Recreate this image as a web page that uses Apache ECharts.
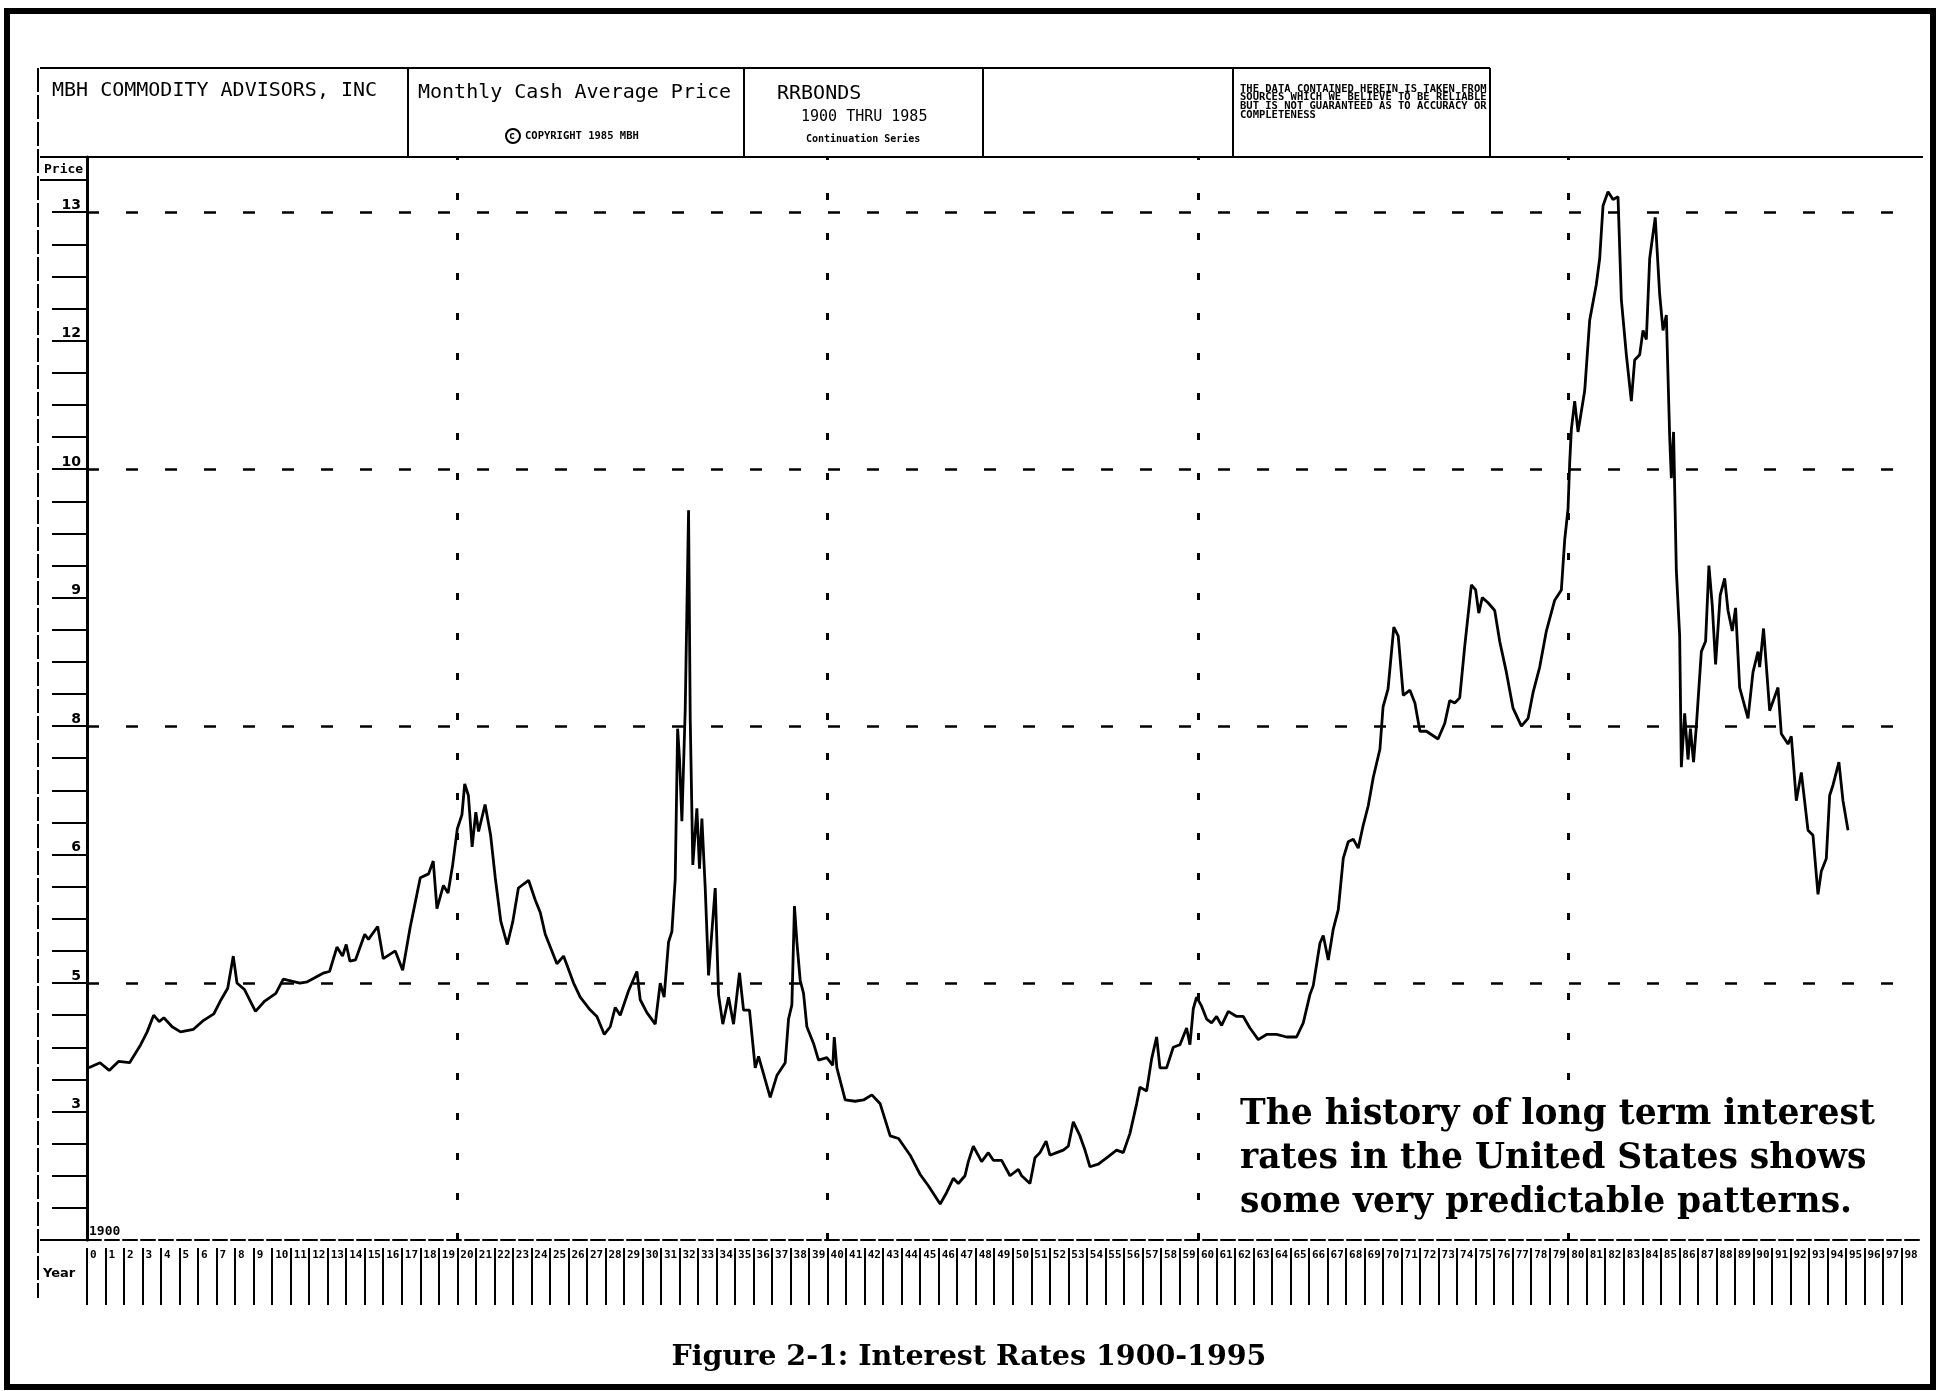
<!DOCTYPE html>
<html><head><meta charset="utf-8">
<script src="https://cdn.jsdelivr.net/npm/echarts/dist/echarts.min.js"></script>
<style>html,body{margin:0;padding:0;background:#fff}#c{width:1939px;height:1391px}</style>
</head><body><div id="c"></div>
<script>
// ---- data (monthly cash average, RR bonds) ----
const dates = [
 1900.1,1900.7,1901.2,1901.7,1902.3,1902.9,1903.25,1903.6,1903.9,1904.15,1904.6,1905.05,1905.75,1906.3,1906.85,1907.2,1907.6,1907.9,1908.1,1908.5,
 1909.1,1909.6,1910.2,1910.6,1911.5,1911.9,1912.8,1913.1,1913.5,1913.8,1914.0,1914.2,1914.5,1915.0,1915.2,1915.7,1916.0,1916.65,1917.05,1917.45,
 1918.0,1918.45,1918.7,1918.9,1919.25,1919.5,1919.75,1920.0,1920.25,1920.4,1920.6,1920.8,1921.0,1921.15,1921.5,1921.8,1922.05,1922.35,1922.7,1923.0,
 1923.3,1923.85,1924.2,1924.48,1924.75,1925.38,1925.74,1926.28,1926.64,1927.18,1927.54,1927.94,1928.26,1928.53,1928.8,1929.25,1929.7,1929.88,1930.24,1930.69,
 1930.96,1931.17,1931.41,1931.59,1931.77,1931.9,1932.0,1932.13,1932.31,1932.49,1932.58,1932.72,1932.94,1933.08,1933.21,1933.39,1933.57,1933.93,1934.11,1934.34,
 1934.65,1934.92,1935.24,1935.46,1935.78,1936.09,1936.27,1936.9,1937.26,1937.71,1937.89,1938.07,1938.21,1938.34,1938.52,1938.7,1938.88,1939.24,1939.51,1939.96,
 1940.28,1940.36,1940.5,1940.95,1941.49,1941.94,1942.39,1942.84,1943.38,1943.83,1944.46,1945.0,1945.45,1946.08,1946.43,1946.79,1947.06,1947.42,1947.6,1947.87,
 1948.32,1948.68,1948.95,1949.4,1949.85,1950.3,1950.48,1950.93,1951.2,1951.47,1951.8,1952.01,1952.37,1952.73,1953.0,1953.27,1953.63,1953.9,1954.17,1954.62,
 1955.07,1955.61,1955.97,1956.33,1956.69,1956.87,1957.23,1957.5,1957.77,1957.95,1958.31,1958.67,1959.03,1959.39,1959.57,1959.75,1959.93,1960.2,1960.47,1960.74,
 1961.01,1961.28,1961.64,1962.09,1962.45,1962.81,1963.26,1963.71,1964.25,1964.79,1965.33,1965.69,1966.05,1966.23,1966.59,1966.77,1967.04,1967.31,1967.58,1967.85,
 1968.12,1968.39,1968.66,1968.93,1969.2,1969.47,1969.83,1970.0,1970.27,1970.58,1970.82,1971.09,1971.45,1971.72,1971.99,1972.34,1972.97,1973.33,1973.6,1973.87,
 1974.14,1974.41,1974.77,1975.0,1975.17,1975.36,1975.67,1976.03,1976.3,1976.66,1977.02,1977.47,1977.83,1978.1,1978.46,1978.82,1979.27,1979.63,1979.81,1979.99,
 1980.08,1980.17,1980.35,1980.53,1980.89,1981.16,1981.52,1981.7,1981.88,1982.15,1982.42,1982.69,1982.87,1983.14,1983.41,1983.59,1983.86,1984.04,1984.22,1984.4,
 1984.7,1984.94,1985.12,1985.3,1985.48,1985.57,1985.69,1985.84,1986.02,1986.11,1986.29,1986.47,1986.6,1986.77,1986.92,1987.19,1987.42,1987.6,1987.78,1987.96,
 1988.21,1988.45,1988.63,1988.86,1989.04,1989.26,1989.71,1989.98,1990.25,1990.34,1990.55,1990.88,1991.33,1991.51,1991.87,1992.05,1992.32,1992.59,1992.95,1993.22,
 1993.49,1993.67,1993.94,1994.12,1994.3,1994.62,1994.84,1995.11
];
const yields = [
 3.68,3.76,3.64,3.78,3.76,4.04,4.24,4.50,4.40,4.46,4.32,4.24,4.28,4.42,4.52,4.72,4.92,5.21,5.00,4.90,
 4.56,4.72,4.84,5.03,5.00,5.01,5.08,5.09,5.28,5.21,5.30,5.17,5.18,5.38,5.34,5.44,5.19,5.25,5.10,5.43,
 5.82,5.85,5.95,5.58,5.76,5.70,5.92,6.40,6.62,7.10,6.92,6.12,6.66,6.36,6.78,6.30,5.82,5.48,5.30,5.48,
 5.74,5.80,5.65,5.55,5.38,5.15,5.21,5.00,4.78,4.58,4.48,4.20,4.32,4.62,4.50,4.88,5.09,4.74,4.54,4.36,
 5.00,4.78,5.32,5.40,5.81,7.96,7.50,6.52,8.13,9.68,8.06,5.92,6.72,5.89,6.56,5.74,5.06,5.74,4.82,4.36,
 4.78,4.36,5.08,4.58,4.58,3.68,3.86,3.22,3.56,3.76,4.44,4.66,5.60,5.32,5.02,4.84,4.32,4.06,3.80,3.84,
 3.72,4.16,3.68,3.18,3.16,3.18,3.26,3.12,2.81,2.79,2.66,2.51,2.42,2.28,2.37,2.48,2.44,2.50,2.61,2.73,
 2.61,2.68,2.62,2.62,2.50,2.55,2.50,2.44,2.64,2.68,2.77,2.66,2.68,2.70,2.73,2.92,2.81,2.70,2.57,2.59,
 2.64,2.70,2.68,2.83,3.12,3.38,3.32,3.82,4.16,3.68,3.68,4.00,4.04,4.30,4.04,4.60,4.78,4.64,4.44,4.38,
 4.48,4.34,4.56,4.48,4.48,4.30,4.12,4.20,4.20,4.16,4.16,4.38,4.82,4.96,5.31,5.37,5.18,5.42,5.57,5.97,
 6.20,6.24,6.10,6.46,6.76,7.20,7.64,8.15,8.29,8.77,8.70,8.24,8.28,8.18,7.92,7.92,7.80,8.02,8.20,8.18,
 8.22,8.62,9.10,9.06,8.88,9.00,8.96,8.90,8.66,8.42,8.14,8.00,8.06,8.26,8.46,8.74,8.98,9.06,9.45,9.69,
 10.10,10.62,11.06,10.58,11.22,12.16,12.44,12.64,13.05,13.16,13.10,13.12,12.32,11.78,11.06,11.70,11.78,12.08,12.01,12.64,
 12.96,12.36,12.08,12.20,10.50,9.93,10.58,9.21,8.70,7.36,8.10,7.48,7.96,7.44,8.00,8.58,8.66,9.25,8.94,8.48,
 9.02,9.15,8.90,8.74,8.92,8.30,8.06,8.42,8.58,8.46,8.76,8.12,8.30,7.88,7.72,7.84,6.84,7.28,6.38,6.30,
 5.69,5.87,5.97,6.92,7.08,7.44,6.84,6.38
];
// price ruler: evenly spaced printed levels (baseline unlabeled)
const priceLevels = [2, 3, 5, 6, 8, 9, 10, 12, 13];
const priceLabels = ['', '3', '5', '6', '8', '9', '10', '12', '13'];
const gridLevelIdx = [2, 4, 6, 8];           // dashed horizontal guides (5, 8, 10, 13)
const gridYears = [1920, 1940, 1960, 1980];   // dashed vertical guides
const yearStart = 1900, yearEnd = 1999;

const headerTexts = {
  company: 'MBH COMMODITY ADVISORS, INC',
  kind: 'Monthly Cash Average Price',
  copyright: 'COPYRIGHT 1985 MBH',
  symbol: 'RRBONDS',
  range: '1900 THRU 1985',
  series: 'Continuation Series',
  disclaimer: ['THE DATA CONTAINED HEREIN IS TAKEN FROM', 'SOURCES WHICH WE BELIEVE TO BE RELIABLE', 'BUT IS NOT GUARANTEED AS TO ACCURACY OR', 'COMPLETENESS']
};
const noteLines = ['The history of long term interest', 'rates in the United States shows', 'some very predictable patterns.'];
const caption = 'Figure 2-1: Interest Rates 1900-1995';

// map a price onto the ruler position (piecewise between printed levels)
function toPos(v) {
  const L = priceLevels;
  for (let i = 0; i < L.length - 1; i++) {
    if (v <= L[i + 1]) return i + (v - L[i]) / (L[i + 1] - L[i]);
  }
  const n = L.length - 1;
  return n + (v - L[n]) / (L[n] - L[n - 1]);
}

const chart = echarts.init(document.getElementById('c'));
const mono = 'DejaVu Sans Mono';
const serif = 'DejaVu Serif';
const K = '#000';
function line(x1, y1, x2, y2, w, dash) {
  return { type: 'line', shape: { x1, y1, x2, y2 }, style: { stroke: K, lineWidth: w || 2, lineDash: dash || null }, silent: true };
}
function txt(x, y, text, font, opt) {
  return Object.assign({ type: 'text', x, y, style: Object.assign({ text, font, fill: K, textVerticalAlign: 'middle' }, opt || {}) , silent: true});
}

const graphics = [
  { type: 'rect', shape: { x: 7, y: 11, width: 1926, height: 1376 }, style: { fill: 'none', stroke: K, lineWidth: 6 }, silent: true },
  line(40, 68, 1490, 68, 2),
  line(40, 157, 1923, 157, 2),
  line(38, 68, 38, 1298, 2, [24, 3]),
  line(408, 68, 408, 157, 2),
  line(744, 68, 744, 157, 2),
  line(983, 68, 983, 157, 2),
  line(1233, 68, 1233, 157, 2),
  line(1490, 68, 1490, 157, 2),
  line(40, 1240, 87, 1240, 2, [14, 4]),
  line(40, 180, 87, 180, 2),
  txt(52, 91, headerTexts.company, '20px ' + mono),
  txt(418, 93, headerTexts.kind, '20px ' + mono),
  { type: 'circle', shape: { cx: 513, cy: 136, r: 7 }, style: { fill: 'none', stroke: K, lineWidth: 2 }, silent: true },
  txt(509, 136, 'c', 'bold 10px ' + mono),
  txt(525, 136, headerTexts.copyright, 'bold 10.5px ' + mono),
  txt(777, 94, headerTexts.symbol, '20px ' + mono),
  txt(801, 117, headerTexts.range, '15px ' + mono),
  txt(806, 139, headerTexts.series, 'bold 10px ' + mono),
  txt(44, 170, 'Price', 'bold 13px ' + mono),
  txt(89, 1232, '1900', 'bold 13px ' + mono),
  txt(43, 1274, 'Year', 'bold 13px DejaVu Sans'),
  txt(969, 1358, caption, 'bold 28.5px ' + serif, { textAlign: 'center' }),
  { type: 'rect', z: 100, shape: { x: 1232, y: 1088, width: 650, height: 136 }, style: { fill: '#fff' }, silent: true }
];
headerTexts.disclaimer.forEach((s, i) => graphics.push(txt(1240, 89 + i * 8.7, s, 'bold 10.5px ' + mono)));
noteLines.forEach((s, i) => graphics.push(Object.assign(txt(1240, 1115 + i * 44, s, 'bold 34.5px ' + serif), { z: 101 })));

const option = {
  animation: false,
  backgroundColor: '#fff',
  grid: { left: 87, right: 19, top: 157, bottom: 151 },
  xAxis: [
    {
      type: 'value', min: yearStart, max: yearEnd, interval: 20,
      axisLine: { show: true, lineStyle: { color: K, width: 2, type: [14, 4] } },
      axisTick: { show: false }, axisLabel: { show: false }, splitLine: { show: false }
    },
    {
      type: 'value', min: yearStart, max: yearEnd, interval: 1, position: 'bottom', offset: 8,
      axisLine: { show: false },
      axisTick: { show: true, length: 57, lineStyle: { color: K, width: 2 } },
      axisLabel: {
        show: true, margin: 2, align: 'left', padding: [0, 0, 0, 3], showMaxLabel: false,
        fontSize: 11, fontWeight: 'bold', fontFamily: mono, color: K,
        formatter: v => (v >= yearEnd ? '' : String(Math.round(v - yearStart)))
      },
      splitLine: { show: false }
    }
  ],
  yAxis: [{
    type: 'value', min: 0, max: 8.43, interval: 0.25,
    axisLine: { show: true, lineStyle: { color: K, width: 3 } },
    axisTick: { show: true, length: 35, lineStyle: { color: K, width: 2 } },
    axisLabel: {
      margin: 6, verticalAlign: 'bottom', fontSize: 14, fontWeight: 'bold', fontFamily: 'DejaVu Sans', color: K,
      formatter: v => {
        const r = Math.round(v);
        return (Math.abs(v - r) < 1e-6 && r >= 1 && r < priceLabels.length) ? priceLabels[r] : '';
      }
    },
    splitLine: { show: false }
  }],
  series: [{
    type: 'line', xAxisIndex: 0, yAxisIndex: 0,
    data: dates.map((d, i) => [d, toPos(yields[i])]),
    showSymbol: false, symbol: 'none',
    lineStyle: { color: K, width: 2.8 },
    markLine: {
      silent: true, symbol: ['none', 'none'], label: { show: false },
      lineStyle: { color: K, width: 3, type: [8, 32] },
      data: gridLevelIdx.map(i => ({ yAxis: i, lineStyle: { color: K, width: 2.5, type: [12, 27] } }))
        .concat(gridYears.map(y => ({ xAxis: y, lineStyle: { color: K, width: 3, type: [7, 33] } })))
    }
  }],
  graphic: graphics
};
chart.setOption(option);
</script></body></html>
